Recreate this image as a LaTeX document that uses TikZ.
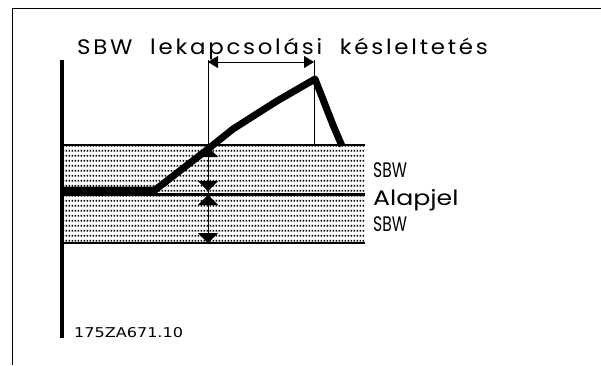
\documentclass[tikz,border=0pt]{standalone}
\usepackage{fontspec}
\usepackage{graphicx}
\newfontfamily\popfont{Poppins}
\newfontfamily\poptitle{Poppins}[LetterSpace=12]
\newfontfamily\dvsfont{DejaVu Sans}
\usetikzlibrary{arrows.meta,patterns}
\pgfdeclarepatternformonly{bdots}{\pgfqpoint{0pt}{0pt}}{\pgfqpoint{3.3pt}{4.7pt}}{\pgfqpoint{3.3pt}{4.7pt}}{%
  \pgfpathrectangle{\pgfqpoint{0.9pt}{1.5pt}}{\pgfqpoint{1.8pt}{1.8pt}}\pgfusepath{fill}}
\begin{document}
\begin{tikzpicture}[x=1pt,y=-1pt,
  frame/.style={line width=1pt},
  axis/.style={line width=4pt},
  bandline/.style={line width=1.5pt},
  refline/.style={line width=3pt},
  curve/.style={line width=7pt,line join=round},
  dim/.style={line width=0.9pt},
  vtip/.style={{Triangle[width=20pt,length=10pt]}-{Triangle[width=20pt,length=10pt]}},
  htip/.style={{Triangle[width=12pt,length=10pt]}-{Triangle[width=12pt,length=10pt]}},
  lbl/.style={inner sep=0pt,anchor=base west,font=\popfont\fontsize{21}{21}\selectfont},
  ttl/.style={inner sep=0pt,anchor=base west,font=\poptitle\fontsize{21}{21}\selectfont},
  code/.style={inner sep=0pt,anchor=base west,font=\dvsfont\fontsize{13.5}{14}\selectfont}]
\useasboundingbox (0,0) rectangle (601,365);
% frame
\coordinate (f1) at (601,8);
\coordinate (f2) at (12,8);
\coordinate (f3) at (12,365);
\draw[frame] (f1) -- (f2) -- (f3);
% band
\coordinate (bt1) at (62,145);
\coordinate (bt2) at (365,145);
\coordinate (bb1) at (62,243);
\coordinate (bb2) at (365,243);
\coordinate (r1) at (62,194);
\coordinate (r2) at (365,194);
\fill[pattern=bdots] (bt1) rectangle (bb2);
\draw[bandline] (bt1) -- (bt2);
\draw[bandline] (bb1) -- (bb2);
\draw[refline] (r1) -- (r2);
% axis
\coordinate (ax1) at (62,60);
\coordinate (ax2) at (62,338);
\draw[axis] (ax1) -- (ax2);
% dimension lines
\coordinate (v1t) at (208,60);
\coordinate (v1b) at (208,243);
\coordinate (v2t) at (314,60);
\coordinate (v2b) at (314,145);
\draw[dim] (v1t) -- (v1b);
\draw[dim] (v2t) -- (v2b);
\coordinate (h1) at (208,62);
\coordinate (h2) at (314,62);
\draw[dim,htip] (h1) -- (h2);
\coordinate (u1) at (208,147);
\coordinate (u2) at (208,191);
\coordinate (l1) at (208,195);
\coordinate (l2) at (208,243);
\draw[dim,vtip] (u1) -- (u2);
\draw[dim,vtip] (l1) -- (l2);
% curve
\coordinate (c0) at (62,190);
\coordinate (c1) at (155,190);
\coordinate (c2) at (208,149);
\coordinate (c3) at (233,129);
\coordinate (c4) at (277,101);
\coordinate (c5) at (315,79);
\coordinate (c6) at (333,125);
\coordinate (c7) at (342,146);
\draw[curve] (c0) -- (c1) -- (c2) -- (c3) -- (c4) -- (c5) -- (c6) -- (c7);
% texts
\node[ttl] (title) at (77,54) {\scalebox{1.09}[1]{SBW\ \ lekapcsolási\ \ késleltetés}};
\node[lbl] (sbw1) at (373,177) {\scalebox{0.74}[1]{SBW}};
\node[lbl] (alap) at (373,205) {\scalebox{1.2}[1]{Alapjel}};
\node[lbl] (sbw2) at (373,231) {\scalebox{0.74}[1]{SBW}};
\node[code] (id) at (74,337) {\scalebox{1.19}[1]{175ZA671.10}};
\end{tikzpicture}
\end{document}
